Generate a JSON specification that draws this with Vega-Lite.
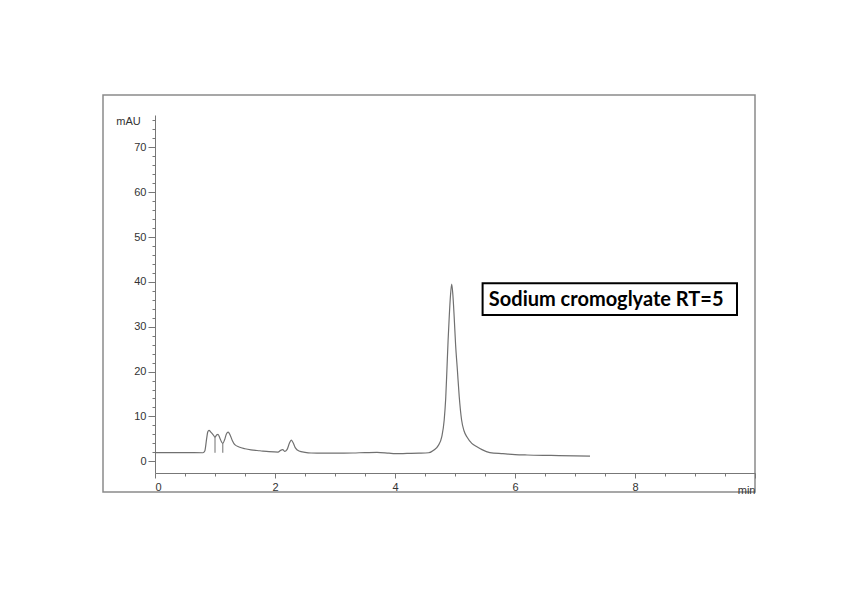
{
  "$schema": "https://vega.github.io/schema/vega-lite/v6.json",
  "width": 652,
  "height": 397,
  "autosize": {"type": "none"},
  "padding": {"left": 103, "top": 95, "right": 110, "bottom": 99},
  "background": "white",
  "config": {
    "view": {"stroke": "#8a8a8a", "strokeWidth": 1.5},
    "axis": {"labelFont": "Liberation Sans", "titleFont": "Liberation Sans", "labelColor": "#333", "titleColor": "#333", "domainColor": "#777", "tickColor": "#777", "grid": false}
  },
  "datasets": {
    "trace": [
      {"t": 0, "mAU": 1.95}, {"t": 0.5, "mAU": 1.95}, {"t": 0.8, "mAU": 1.9}, {"t": 0.83, "mAU": 2.3},
      {"t": 0.86, "mAU": 5.0}, {"t": 0.88, "mAU": 6.6}, {"t": 0.9, "mAU": 6.9}, {"t": 0.93, "mAU": 6.5},
      {"t": 0.97, "mAU": 5.9}, {"t": 1.0, "mAU": 5.4}, {"t": 1.03, "mAU": 5.9}, {"t": 1.05, "mAU": 6.0},
      {"t": 1.08, "mAU": 5.2}, {"t": 1.11, "mAU": 4.3}, {"t": 1.13, "mAU": 4.0}, {"t": 1.16, "mAU": 4.8},
      {"t": 1.19, "mAU": 6.1}, {"t": 1.22, "mAU": 6.5}, {"t": 1.25, "mAU": 5.9}, {"t": 1.29, "mAU": 4.6},
      {"t": 1.33, "mAU": 3.7}, {"t": 1.4, "mAU": 3.2}, {"t": 1.5, "mAU": 2.8}, {"t": 1.6, "mAU": 2.55},
      {"t": 1.75, "mAU": 2.35}, {"t": 1.9, "mAU": 2.15}, {"t": 2.05, "mAU": 2.05}, {"t": 2.1, "mAU": 2.5},
      {"t": 2.13, "mAU": 2.6}, {"t": 2.16, "mAU": 2.2}, {"t": 2.2, "mAU": 2.6}, {"t": 2.24, "mAU": 4.0},
      {"t": 2.27, "mAU": 4.7}, {"t": 2.3, "mAU": 4.2}, {"t": 2.34, "mAU": 3.0}, {"t": 2.4, "mAU": 2.3},
      {"t": 2.5, "mAU": 2.0}, {"t": 2.6, "mAU": 1.85}, {"t": 2.8, "mAU": 1.8}, {"t": 3.0, "mAU": 1.8},
      {"t": 3.3, "mAU": 1.85}, {"t": 3.5, "mAU": 1.95}, {"t": 3.7, "mAU": 2.0}, {"t": 3.9, "mAU": 1.8},
      {"t": 4.0, "mAU": 1.7}, {"t": 4.2, "mAU": 1.75}, {"t": 4.4, "mAU": 1.8}, {"t": 4.56, "mAU": 1.9},
      {"t": 4.65, "mAU": 2.5}, {"t": 4.72, "mAU": 3.5}, {"t": 4.78, "mAU": 5.5}, {"t": 4.82, "mAU": 9.2},
      {"t": 4.845, "mAU": 14}, {"t": 4.865, "mAU": 20.3}, {"t": 4.885, "mAU": 27}, {"t": 4.905, "mAU": 32.5},
      {"t": 4.925, "mAU": 37}, {"t": 4.945, "mAU": 39.5}, {"t": 4.965, "mAU": 37}, {"t": 4.985, "mAU": 32.5},
      {"t": 5.01, "mAU": 26}, {"t": 5.04, "mAU": 20.3}, {"t": 5.07, "mAU": 14.5}, {"t": 5.11, "mAU": 9.2},
      {"t": 5.15, "mAU": 6.8}, {"t": 5.2, "mAU": 5.4}, {"t": 5.28, "mAU": 4.0}, {"t": 5.36, "mAU": 3.3},
      {"t": 5.45, "mAU": 2.6}, {"t": 5.58, "mAU": 1.95}, {"t": 5.8, "mAU": 1.7}, {"t": 6.0, "mAU": 1.5},
      {"t": 6.2, "mAU": 1.4}, {"t": 6.6, "mAU": 1.3}, {"t": 7.0, "mAU": 1.2}, {"t": 7.25, "mAU": 1.15}
    ],
    "drops": [
      {"t": 1.0, "lo": 1.9, "hi": 5.4},
      {"t": 1.13, "lo": 1.9, "hi": 4.0}
    ],
    "box": [
      {"x1": 5.46, "x2": 9.7, "y1": 32.6, "y2": 39.7, "xm": 7.52, "ym": 36.0, "label": "Sodium cromoglyate RT=5"}
    ]
  },
  "layer": [
    {
      "data": {"name": "trace"},
      "mark": {"type": "line", "color": "#707070", "strokeWidth": 1.2, "interpolate": "monotone"},
      "encoding": {
        "x": {
          "field": "t", "type": "quantitative",
          "scale": {"domain": [0, 10], "range": [52, 652], "nice": false, "zero": false},
          "axis": {"orient": "bottom", "offset": -19, "values": [0, 2, 4, 6, 8, 10], "labelExpr": "datum.value == 10 ? '' : datum.label", "labelFontSize": 11, "tickSize": 5, "labelPadding": 3, "title": "min", "titleFontSize": 11, "titleFontWeight": "normal", "titleX": 652, "titleY": 17, "titleAlign": "right", "titleBaseline": "middle"}
        },
        "y": {
          "field": "mAU", "type": "quantitative",
          "scale": {"domain": [-2.61, 77.2], "range": [378, 20], "nice": false, "zero": false},
          "axis": {"orient": "left", "offset": -52, "values": [0, 10, 20, 30, 40, 50, 60, 70], "labelFontSize": 11, "tickSize": 7, "labelPadding": 2, "title": "mAU", "titleFontSize": 11, "titleFontWeight": "normal", "titleAngle": 0, "titleX": -27, "titleY": 26, "titleAlign": "center", "titleBaseline": "middle"}
        }
      }
    },
    {
      "data": {"name": "drops"},
      "mark": {"type": "rule", "color": "#707070", "strokeWidth": 1},
      "encoding": {
        "x": {"field": "t", "type": "quantitative", "axis": {"orient": "bottom", "offset": -19, "values": [0.5, 1, 1.5, 2.5, 3, 3.5, 4.5, 5, 5.5, 6.5, 7, 7.5, 8.5, 9, 9.5], "labels": false, "domain": false, "tickSize": 3, "title": null}},
        "y": {"field": "lo", "type": "quantitative", "axis": {"orient": "left", "offset": -52, "values": [2, 4, 6, 8, 12, 14, 16, 18, 22, 24, 26, 28, 32, 34, 36, 38, 42, 44, 46, 48, 52, 54, 56, 58, 62, 64, 66, 68, 72, 74, 76], "labels": false, "domain": false, "tickSize": 3, "title": null}},
        "y2": {"field": "hi"}
      }
    },
    {
      "data": {"name": "box"},
      "mark": {"type": "rect", "fill": "white", "stroke": "black", "strokeWidth": 2},
      "encoding": {
        "x": {"field": "x1", "type": "quantitative", "axis": null},
        "x2": {"field": "x2"},
        "y": {"field": "y1", "type": "quantitative", "axis": null},
        "y2": {"field": "y2"}
      }
    },
    {
      "data": {"name": "box"},
      "mark": {"type": "text", "font": "Lato", "fontWeight": "bold", "fontSize": 20, "color": "black", "align": "center", "baseline": "middle"},
      "encoding": {
        "x": {"field": "xm", "type": "quantitative", "axis": null},
        "y": {"field": "ym", "type": "quantitative", "axis": null},
        "text": {"field": "label"}
      }
    }
  ],
  "resolve": {"axis": {"x": "independent", "y": "independent"}}
}
